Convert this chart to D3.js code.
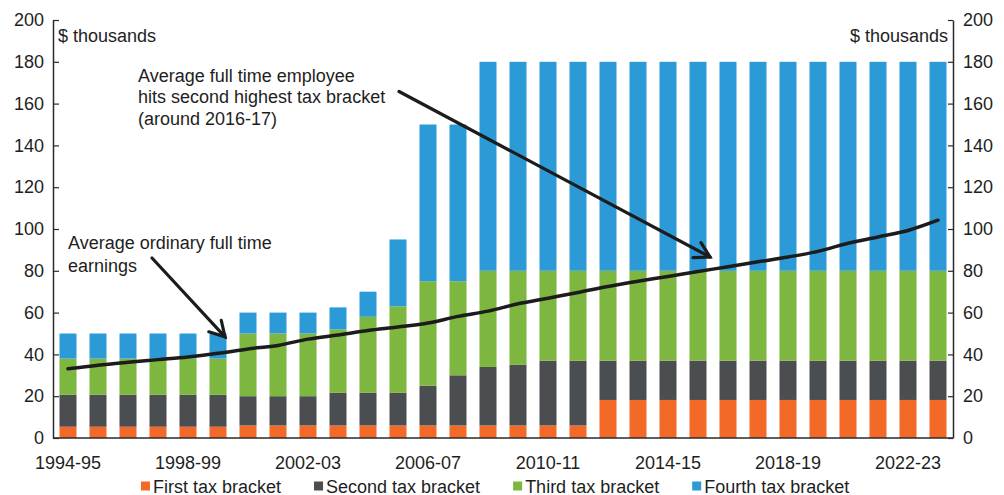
<!DOCTYPE html>
<html><head><meta charset="utf-8">
<script src="https://cdn.jsdelivr.net/npm/d3@7"></script>
<style>
body{margin:0;background:#fff;}
svg{display:block;font-family:"Liberation Sans",Arial,Helvetica,sans-serif;}
</style></head><body>
<svg id="chart" width="1004" height="495"></svg>
<script>
// ---------- DATA ($ thousands) ----------
const years = ["1994-95","1995-96","1996-97","1997-98","1998-99","1999-00","2000-01","2001-02","2002-03","2003-04",
  "2004-05","2005-06","2006-07","2007-08","2008-09","2009-10","2010-11","2011-12","2012-13","2013-14",
  "2014-15","2015-16","2016-17","2017-18","2018-19","2019-20","2020-21","2021-22","2022-23","2023-24"];
// upper threshold of each bracket
const firstBracket  = [5.4,5.4,5.4,5.4,5.4,5.4,6,6,6,6,6,6,6,6,6,6,6,6,18.2,18.2,18.2,18.2,18.2,18.2,18.2,18.2,18.2,18.2,18.2,18.2];
const secondBracket = [20.7,20.7,20.7,20.7,20.7,20.7,20,20,20,21.6,21.6,21.6,25,30,34,35,37,37,37,37,37,37,37,37,37,37,37,37,37,37];
const thirdBracket  = [38,38,38,38,38,38,50,50,50,52,58,63,75,75,80,80,80,80,80,80,80,80,80,80,80,80,80,80,80,80];
const fourthBracket = [50,50,50,50,50,50,60,60,60,62.5,70,95,150,150,180,180,180,180,180,180,180,180,180,180,180,180,180,180,180,180];
const earnings = [33.1,34.8,36.2,37.5,38.8,40.5,42.6,44.3,47.3,49.3,51.4,53.1,55.0,58.2,60.7,64.2,66.9,69.6,72.5,75.0,
  77.3,79.7,81.9,84.3,86.6,89.3,93.2,96.2,99.3,104.2];
const yTicks = [0,20,40,60,80,100,120,140,160,180,200];
const xTickLabels = ["1994-95","1998-99","2002-03","2006-07","2010-11","2014-15","2018-19","2022-23"];
const seriesNames = ["First tax bracket","Second tax bracket","Third tax bracket","Fourth tax bracket"];
const seriesColors = ["#f36a28","#4b4e50","#7db73f","#2c9ad7"];
const unitLabel = "$ thousands";
const note1 = ["Average ordinary full time","earnings"];
const note2 = ["Average full time employee","hits second highest tax bracket","(around 2016-17)"];

// ---------- LAYOUT ----------
const svg = d3.select("#chart");
const L = 53, R = 953, T = 20, B = 438;
const FS = 18, TXT = "#1e1e1e";

const x = d3.scaleBand().domain(years).range([L, R]).paddingInner(0.433).paddingOuter(0.2165);
const y = d3.scaleLinear().domain([0, 200]).range([B, T]);

// stacked table
const keys = ["b1","b2","b3","b4"];
const table = years.map((yr, i) => ({
  year: yr,
  b1: firstBracket[i],
  b2: secondBracket[i] - firstBracket[i],
  b3: thirdBracket[i] - secondBracket[i],
  b4: fourthBracket[i] - thirdBracket[i]
}));
const stacked = d3.stack().keys(keys)(table);

svg.append("g").selectAll("g").data(stacked).join("g")
  .attr("fill", (d, i) => seriesColors[i])
  .selectAll("rect").data(d => d).join("rect")
  .attr("x", d => x(d.data.year))
  .attr("width", x.bandwidth())
  .attr("y", d => y(d[1]))
  .attr("height", d => y(d[0]) - y(d[1]));

// earnings line
const line = d3.line()
  .x((d, i) => x(years[i]) + x.bandwidth() / 2)
  .y(d => y(d))
  .curve(d3.curveMonotoneX);
svg.append("path").datum(earnings)
  .attr("d", line).attr("fill", "none")
  .attr("stroke", "#1c1c1c").attr("stroke-width", 3.5)
  .attr("stroke-linejoin", "round").attr("stroke-linecap", "round");

// axes
const axisColor = "#2a2a2a";
function styleAxis(g) {
  g.select(".domain").attr("stroke", axisColor).attr("stroke-width", 1.5);
  g.selectAll(".tick line").attr("stroke", axisColor).attr("stroke-width", 1.2);
  g.selectAll("text").attr("font-size", FS).attr("fill", TXT).attr("font-family", null);
}
svg.append("g").attr("transform", `translate(${L},0)`)
  .call(d3.axisLeft(y).tickValues(yTicks).tickSizeInner(-6).tickSizeOuter(0).tickPadding(9))
  .call(styleAxis);
svg.append("g").attr("transform", `translate(${R},0)`)
  .call(d3.axisRight(y).tickValues(yTicks).tickSizeInner(-5).tickSizeOuter(0).tickPadding(10))
  .call(styleAxis);
svg.append("g").attr("transform", `translate(0,${B})`)
  .call(d3.axisBottom(x).tickValues(xTickLabels).tickSize(0).tickPadding(18))
  .call(g => { g.select(".domain").attr("d", `M${L},0H${R}`); })
  .call(styleAxis);

// unit labels
svg.append("text").attr("x", L + 5).attr("y", 41.5).attr("font-size", FS).attr("fill", TXT).text(unitLabel);
svg.append("text").attr("x", R - 5).attr("y", 41.5).attr("font-size", FS).attr("fill", TXT)
  .attr("text-anchor", "end").text(unitLabel);

// annotations
function arrow(x1, y1, x2, y2) {
  svg.append("line").attr("x1", x1).attr("y1", y1).attr("x2", x2).attr("y2", y2)
    .attr("stroke", "#1c1c1c").attr("stroke-width", 3.2).attr("stroke-linecap", "round");
  const ang = Math.atan2(y1 - y2, x1 - x2), len = 17, spread = 30 * Math.PI / 180;
  const p1 = [x2 + len * Math.cos(ang + spread), y2 + len * Math.sin(ang + spread)];
  const p2 = [x2 + len * Math.cos(ang - spread), y2 + len * Math.sin(ang - spread)];
  svg.append("path").attr("d", `M${p1[0]},${p1[1]}L${x2},${y2}L${p2[0]},${p2[1]}`)
    .attr("fill", "none").attr("stroke", "#1c1c1c").attr("stroke-width", 3.2)
    .attr("stroke-linecap", "round").attr("stroke-linejoin", "miter");
}
const n1 = svg.append("text").attr("font-size", FS).attr("fill", TXT);
note1.forEach((t, i) => n1.append("tspan").attr("x", 68).attr("y", 248.5 + i * 23).text(t));
arrow(152, 258, x(years[5]) + x.bandwidth() / 2 + 7, y(48.4));

const n2 = svg.append("text").attr("font-size", FS).attr("fill", TXT);
note2.forEach((t, i) => n2.append("tspan").attr("x", 138).attr("y", 81.5 + i * 21.5).text(t));
arrow(399, 91.5, x(years[21]) + x.bandwidth() / 2 + 12, y(86.6));

// legend
const lg = svg.append("g");
let lx = 141;
seriesNames.forEach((name, i) => {
  lg.append("rect").attr("x", lx).attr("y", 481.5).attr("width", 9).attr("height", 9).attr("fill", seriesColors[i]);
  const t = lg.append("text").attr("x", lx + 12).attr("y", 492.5).attr("font-size", FS).attr("fill", TXT).text(name);
  lx = lx + 12 + t.node().getComputedTextLength() + 33;
});
</script>
</body></html>
